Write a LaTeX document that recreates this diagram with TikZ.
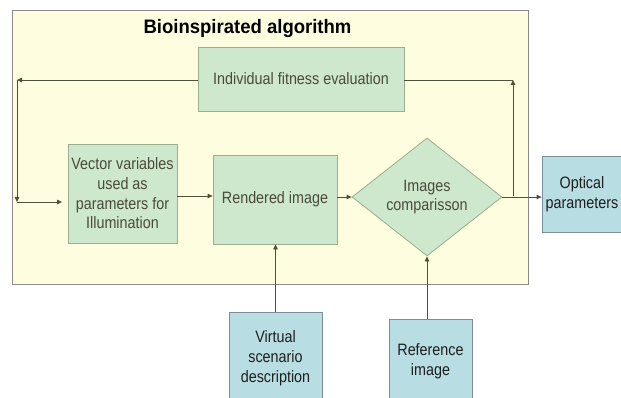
\documentclass[tikz,border=0pt]{standalone}
\usepackage{fontspec}
\setmainfont{Liberation Sans}
\newfontfamily\nfont[FakeStretch=0.87]{Liberation Sans}
\newfontfamily\tfont[FakeStretch=0.95]{Liberation Sans}
\usetikzlibrary{shapes.geometric,arrows.meta,calc}
\definecolor{bgyellow}{HTML}{FFFDE0}
\definecolor{bgborder}{HTML}{8A8A8A}
\definecolor{gfill}{HTML}{CDE8CC}
\definecolor{gborder}{HTML}{9AAE8C}
\definecolor{bfill}{HTML}{B8DEE3}
\definecolor{bborder}{HTML}{7C8F98}
\definecolor{arrcol}{HTML}{4E5038}
\definecolor{gtext}{HTML}{4A4A3C}
\definecolor{btext}{HTML}{1E1E1E}
\tikzset{
  gbox/.style={draw=gborder, fill=gfill, line width=0.8pt, inner sep=0pt, align=center,
    text=gtext, font=\nfont\fontsize{16.5}{19.7}\selectfont},
  bbox/.style={draw=bborder, fill=bfill, line width=0.8pt, inner sep=0pt, align=center,
    text=btext, font=\nfont\fontsize{16.5}{19.9}\selectfont},
  conn/.style={draw=arrcol, line width=0.8pt},
  arr/.style={conn, -{Triangle[length=5pt,width=4.5pt]}},
}
\begin{document}
\begin{tikzpicture}[x=1pt,y=-1pt]
\clip (0,0) rectangle (621,398);
\fill[white] (0,0) rectangle (621,398);
% outer box
\draw[draw=bgborder, fill=bgyellow, line width=0.8pt] (12,10) rectangle (528,284);
\node[anchor=base, font=\tfont\bfseries\fontsize{19.5}{22}\selectfont, text=black] (title) at (247.5,34) {Bioinspirated algorithm};
% nodes
\node[gbox, minimum width=206pt, minimum height=64pt] (fit) at (301,79) {Individual fitness evaluation};
\node[gbox, minimum width=109pt, minimum height=99pt] (vec) at (122.5,193.5) {Vector variables\\used as\\parameters for\\Illumination};
\node[gbox, minimum width=124pt, minimum height=89pt] (ren) at (275,199.5) {Rendered image};
\node[gbox, diamond, minimum width=150pt, minimum height=118pt] (dia) at (427,197) {Images\\comparisson};
\node[bbox, minimum width=80pt, minimum height=76pt] (opt) at (582,194) {Optical\\parameters};
\node[bbox, minimum width=93pt, minimum height=92pt] (vir) at (275.5,358) {Virtual\\scenario\\description};
\node[bbox, minimum width=83pt, minimum height=84pt] (ref) at (430.5,361) {Reference\\image};
% coordinates
\coordinate (l1) at (17,80);
\coordinate (l2) at (17,202);
\coordinate (l3) at (62,202);
\coordinate (r1) at (513,196);
\coordinate (r2) at (513,80);
% connectors
\draw[arr] (fit.west |- l1) -- (l1);
\draw[arr] (l1) -- (l2);
\draw[arr] (l2) -- (l3);
\draw[arr] (vec.east |- 0,196) -- (ren.west |- 0,196);
\draw[arr] (ren.east |- dia.west) -- (dia.west);
\draw[arr] (dia.east) -- (opt.west |- dia.east);
\draw[arr] (r1) -- (r2);
\draw[conn] (fit.east |- r2) -- (r2);
\draw[arr] (vir.north) -- (vir.north |- ren.south);
\draw[arr] (ref.north -| dia.south) -- (dia.south);
\end{tikzpicture}
\end{document}
